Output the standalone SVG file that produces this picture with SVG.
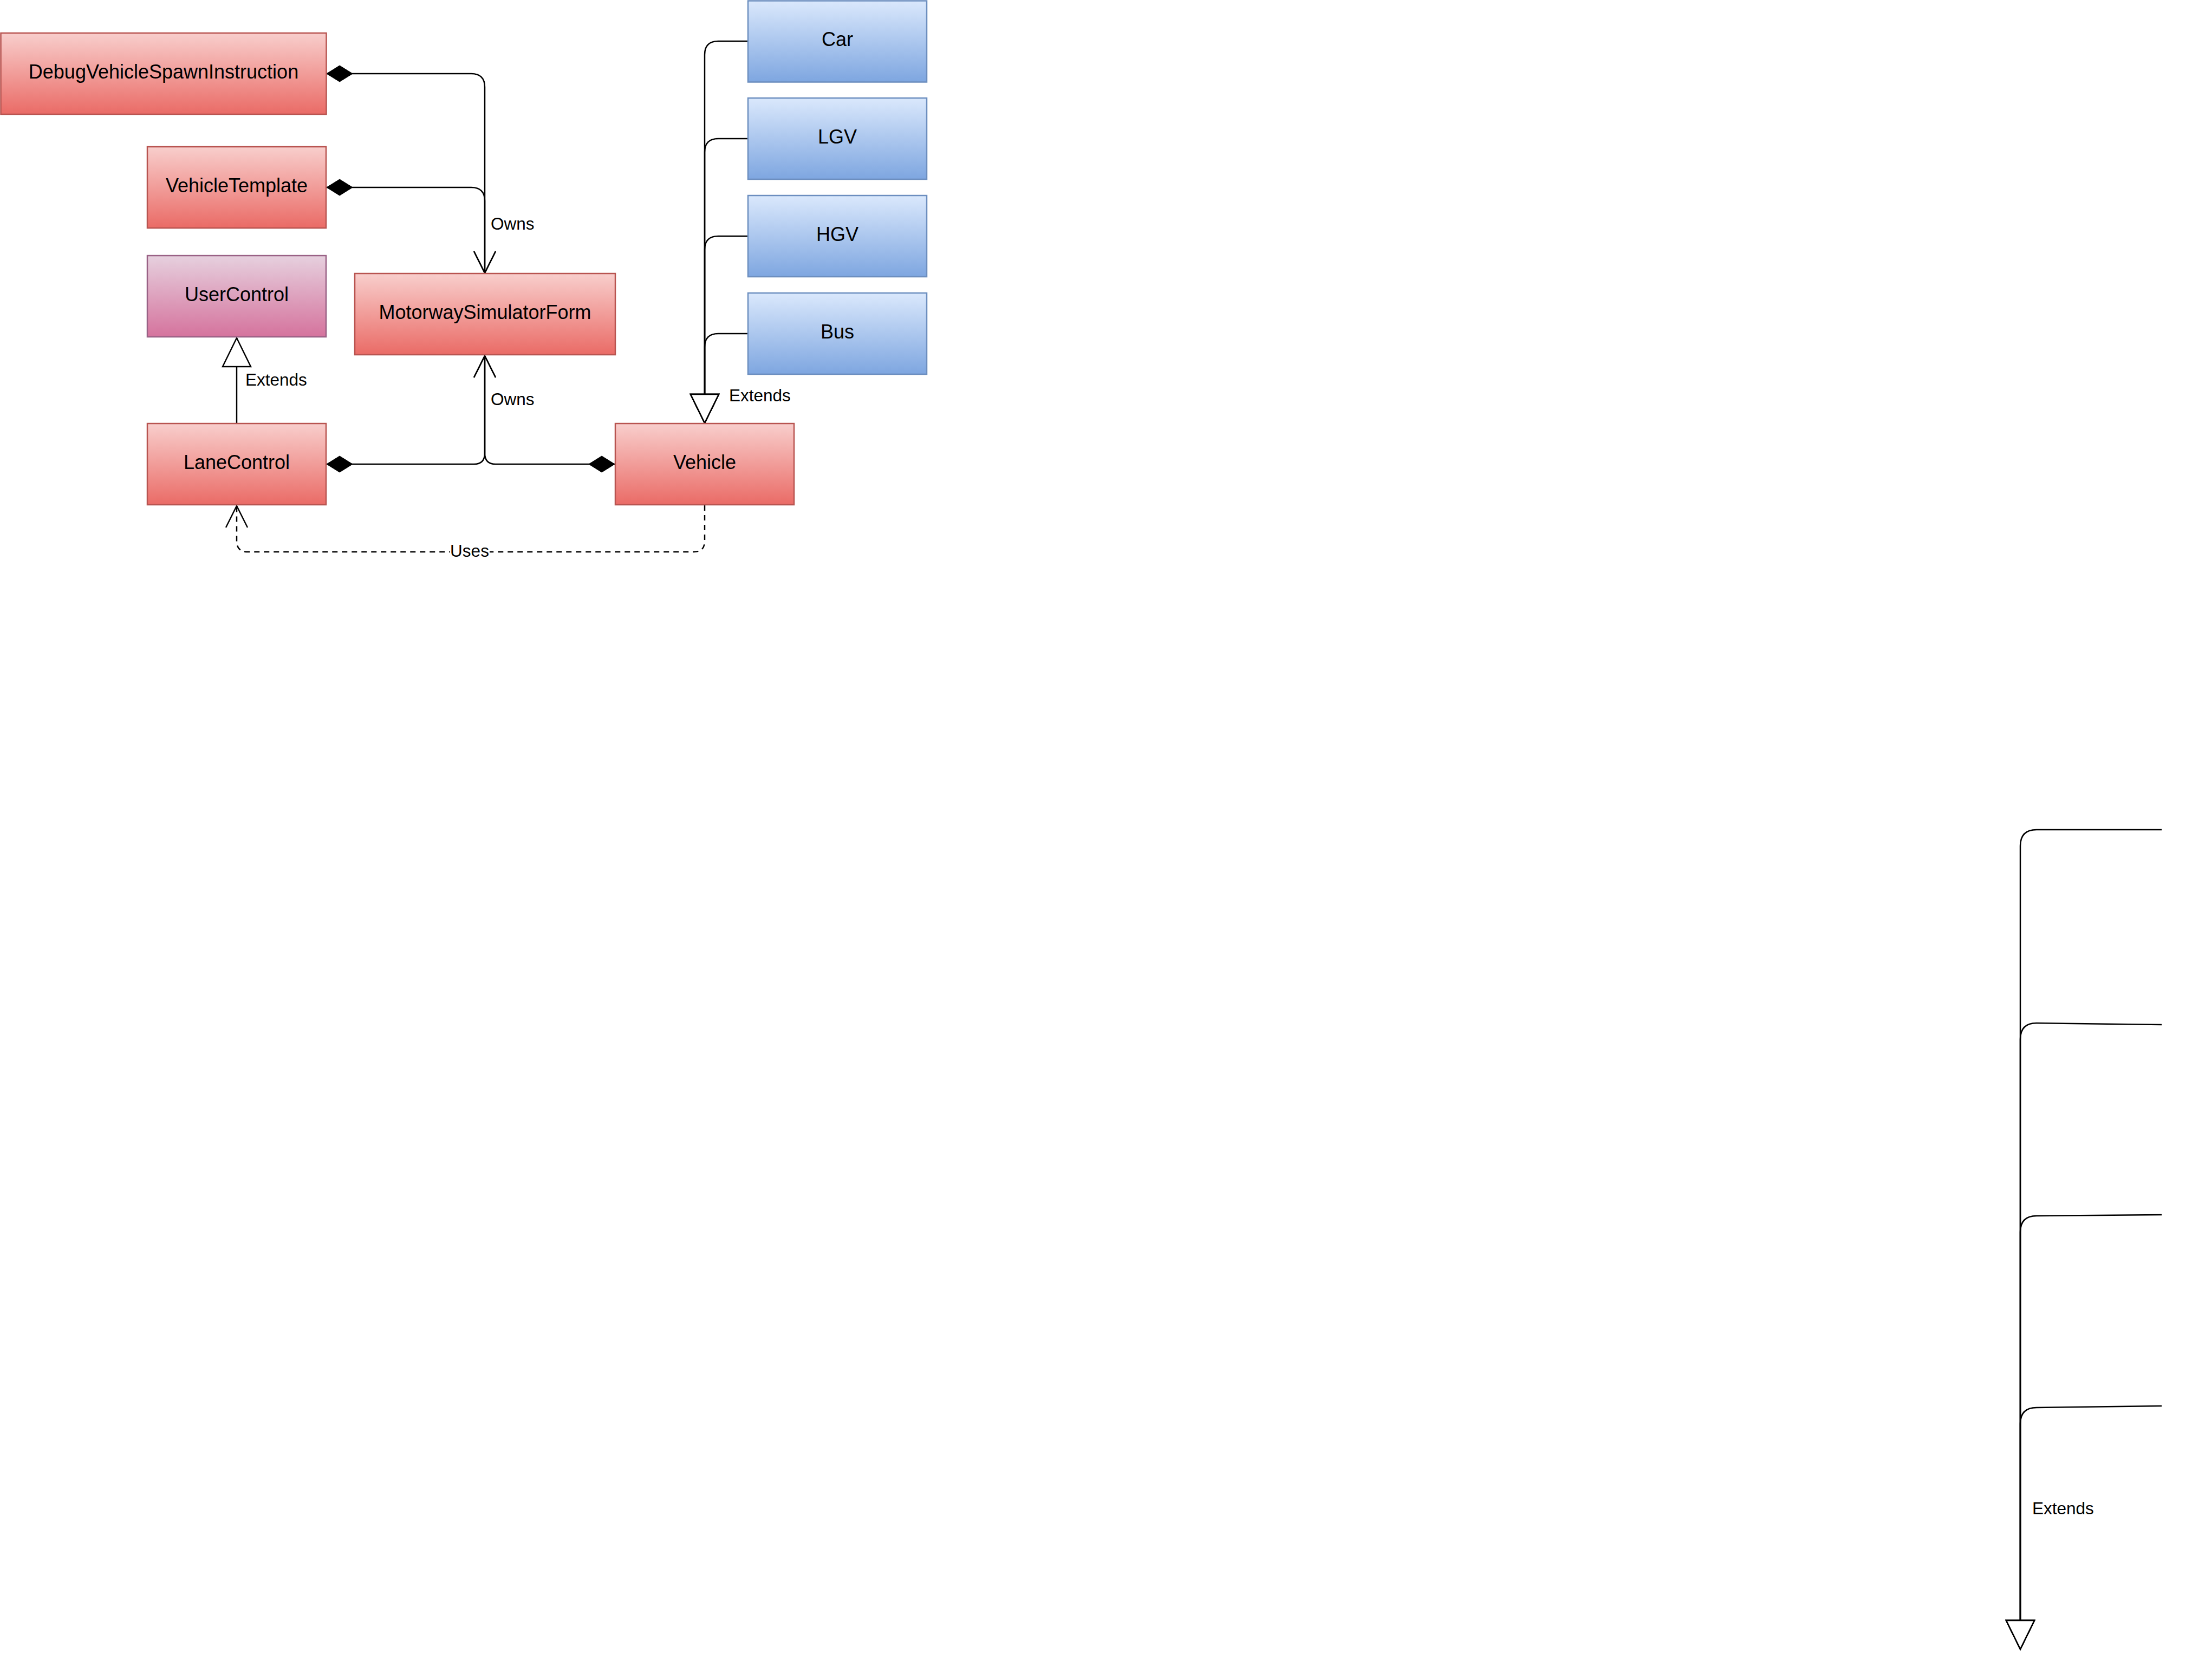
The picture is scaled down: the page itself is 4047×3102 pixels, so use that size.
<svg xmlns="http://www.w3.org/2000/svg" width="4047" height="3102" viewBox="0 0 4047 3102">
<style>
.box{stroke-width:2.5}
.red{fill:url(#gRed);stroke:#b85450}
.purple{fill:url(#gPurple);stroke:#996185}
.blue{fill:url(#gBlue);stroke:#6c8ebf}
.lbl{font-family:"Liberation Sans",Arial,Helvetica,sans-serif;font-size:36px;fill:#000;text-anchor:middle;dominant-baseline:central}
.elbl{font-family:"Liberation Sans",Arial,Helvetica,sans-serif;font-size:31.5px;fill:#000;dominant-baseline:central}
.edge{fill:none;stroke:#000;stroke-width:2.5}
.dash{stroke-dasharray:10 8}
</style>
<defs>
<linearGradient id="gRed" x1="0" y1="0" x2="0" y2="1"><stop offset="0" stop-color="#f8cecc"/><stop offset="1" stop-color="#ea6b66"/></linearGradient>
<linearGradient id="gPurple" x1="0" y1="0" x2="0" y2="1"><stop offset="0" stop-color="#e6d0de"/><stop offset="1" stop-color="#d5739d"/></linearGradient>
<linearGradient id="gBlue" x1="0" y1="0" x2="0" y2="1"><stop offset="0" stop-color="#dae8fc"/><stop offset="1" stop-color="#7ea6e0"/></linearGradient>
<marker id="diamond" markerUnits="userSpaceOnUse" markerWidth="50" markerHeight="32" refX="48" refY="15" orient="auto-start-reverse" overflow="visible">
<path d="M0 15 L24 0 L48 15 L24 30 Z" fill="#000" stroke="#000" stroke-width="1"/>
</marker>
<marker id="open" markerUnits="userSpaceOnUse" markerWidth="44" markerHeight="44" refX="0" refY="0" orient="auto" overflow="visible">
<path d="M-40 -20 L0 0 L-40 20" fill="none" stroke="#000" stroke-width="2.5"/>
</marker>
<marker id="tri" markerUnits="userSpaceOnUse" markerWidth="56" markerHeight="56" refX="0" refY="0" orient="auto" overflow="visible">
<path d="M-53 -26 L0 0 L-53 26 Z" fill="#fff" stroke="#000" stroke-width="2.5"/>
</marker>
</defs>
<rect width="4047" height="3102" fill="#fff"/>
<g id="connectors">
<path class="edge" d="M603 136 H870 Q895 136 895 161 V504" marker-start="url(#diamond)" marker-end="url(#open)"/>
<path class="edge" d="M603 346 H870 Q895 346 895 371 V504" marker-start="url(#diamond)" marker-end="url(#open)"/>
<text class="elbl" x="906" y="413">Owns</text>
<path class="edge" d="M603 857 H875 Q895 857 895 837 V657" marker-start="url(#diamond)" marker-end="url(#open)"/>
<path class="edge" d="M1135 857 H915 Q895 857 895 837 V657" marker-start="url(#diamond)" marker-end="url(#open)"/>
<text class="elbl" x="906" y="737">Owns</text>
<path class="edge" d="M437 782 V624" marker-end="url(#tri)"/>
<text class="elbl" x="453" y="701">Extends</text>
<path class="edge" d="M1381 76 H1326 Q1301 76 1301 101 V781" marker-end="url(#tri)"/>
<path class="edge" d="M1381 256 H1326 Q1301 256 1301 281 V781" marker-end="url(#tri)"/>
<path class="edge" d="M1381 436 H1326 Q1301 436 1301 461 V781" marker-end="url(#tri)"/>
<path class="edge" d="M1381 616 H1326 Q1301 616 1301 641 V781" marker-end="url(#tri)"/>
<text class="elbl" x="1346" y="730">Extends</text>
<path class="edge dash" d="M1301 933 V999 Q1301 1019 1281 1019 H457 Q437 1019 437 999 V934" marker-end="url(#open)"/>
<rect x="831" y="1003" width="73" height="28" fill="#fff"/>
<text class="elbl" x="867" y="1017" text-anchor="middle">Uses</text>
<path class="edge" d="M3991 1532 H3760 Q3730 1532 3730 1562 V3045" marker-end="url(#tri)"/>
<path class="edge" d="M3991 1892 L3760 1889 Q3730 1889 3730 1919 V3045" marker-end="url(#tri)"/>
<path class="edge" d="M3991 2243 L3760 2245 Q3730 2245 3730 2275 V3045" marker-end="url(#tri)"/>
<path class="edge" d="M3991 2596 L3760 2599 Q3730 2599 3730 2629 V3045" marker-end="url(#tri)"/>
<text class="elbl" x="3752" y="2785">Extends</text>
</g>
<g id="DebugVehicleSpawnInstruction"><rect class="box red" x="1.5" y="61" width="601" height="150"/><text class="lbl" x="302" y="132">DebugVehicleSpawnInstruction</text></g>
<g id="VehicleTemplate"><rect class="box red" x="272" y="271" width="330" height="150"/><text class="lbl" x="437" y="342">VehicleTemplate</text></g>
<g id="UserControl"><rect class="box purple" x="272" y="472" width="330" height="150"/><text class="lbl" x="437" y="543">UserControl</text></g>
<g id="MotorwaySimulatorForm"><rect class="box red" x="655" y="505" width="481" height="150"/><text class="lbl" x="895.5" y="576">MotorwaySimulatorForm</text></g>
<g id="LaneControl"><rect class="box red" x="272" y="782" width="330" height="150"/><text class="lbl" x="437" y="853">LaneControl</text></g>
<g id="Vehicle"><rect class="box red" x="1136" y="782" width="330" height="150"/><text class="lbl" x="1301" y="853">Vehicle</text></g>
<g id="Car"><rect class="box blue" x="1381" y="1.5" width="330" height="150"/><text class="lbl" x="1546" y="72">Car</text></g>
<g id="LGV"><rect class="box blue" x="1381" y="181" width="330" height="150"/><text class="lbl" x="1546" y="252">LGV</text></g>
<g id="HGV"><rect class="box blue" x="1381" y="361" width="330" height="150"/><text class="lbl" x="1546" y="432">HGV</text></g>
<g id="Bus"><rect class="box blue" x="1381" y="541" width="330" height="150"/><text class="lbl" x="1546" y="612">Bus</text></g>
</svg>
